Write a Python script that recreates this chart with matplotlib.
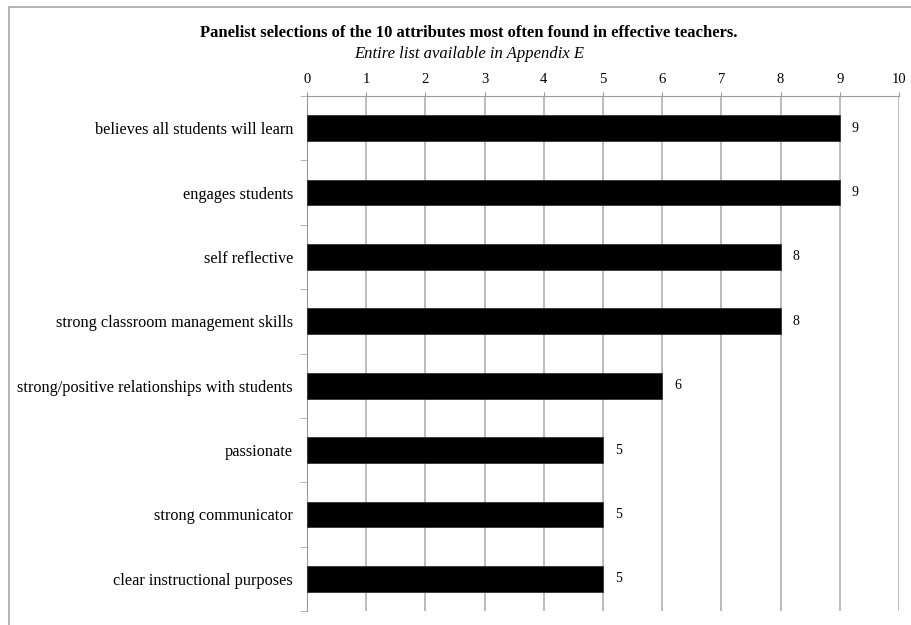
import matplotlib.pyplot as plt
import matplotlib.patches as mpatches
import numpy as np

plt.rcParams['font.family'] = ['Liberation Serif', 'DejaVu Serif']

attributes = ['believes all students will learn',
              'engages students',
              'self reflective',
              'strong classroom management skills',
              'strong/positive relationships with students',
              'passionate',
              'strong communicator',
              'clear instructional purposes']
counts = [9, 9, 8, 8, 6, 5, 5, 5]
x_ticks = list(range(0, 11))

fig = plt.figure(figsize=(9.12, 6.25), dpi=100)
ax = fig.add_axes([307 / 912, 14 / 625, 592 / 912, 515 / 625])

# outer frame around the whole chart
fig.patches.append(mpatches.Rectangle((9 / 912, -0.02), 1.0, 1 - 7 / 625 + 0.02,
                                      transform=fig.transFigure, fill=False,
                                      edgecolor='#a8a8a8', linewidth=1.2))

y = np.arange(len(attributes))
ax.barh(y, counts, height=0.4, color='black', edgecolor='#333333', linewidth=0.6, zorder=3)
for yi, c in zip(y, counts):
    ax.text(c + 0.2, yi, str(c), va='center', ha='left', fontsize=10)

ax.set_xlim(0, 10)
ax.set_ylim(len(attributes) - 0.5, -0.5)
ax.set_xticks(x_ticks)
ax.xaxis.tick_top()
ax.tick_params(axis='x', direction='out', length=3, color='#999999', labelsize=10.5, pad=4)
ax.grid(axis='x', color='#b0b0b0', linewidth=1.2, zorder=0)

ax.set_yticks(y)
ax.set_yticklabels(attributes, fontsize=11.7)
ax.set_yticks(np.arange(-0.5, len(attributes) + 0.5, 1), minor=True)
ax.tick_params(axis='y', which='major', length=0, pad=10)
ax.tick_params(axis='y', which='minor', length=5, color='#aaaaaa', direction='out')

for side in ['right', 'bottom']:
    ax.spines[side].set_visible(False)
for side in ['top', 'left']:
    ax.spines[side].set_color('#999999')

fig.text(0.5 * (203 + 735) / 912, 1 - 33 / 625,
         'Panelist selections of the 10 attributes most often found in effective teachers.',
         ha='center', va='center', fontsize=12, fontweight='bold')
fig.text(0.5 * (203 + 735) / 912, 1 - 54 / 625, 'Entire list available in Appendix E',
         ha='center', va='center', fontsize=12, style='italic')

fig.savefig('out.png', dpi=100)
